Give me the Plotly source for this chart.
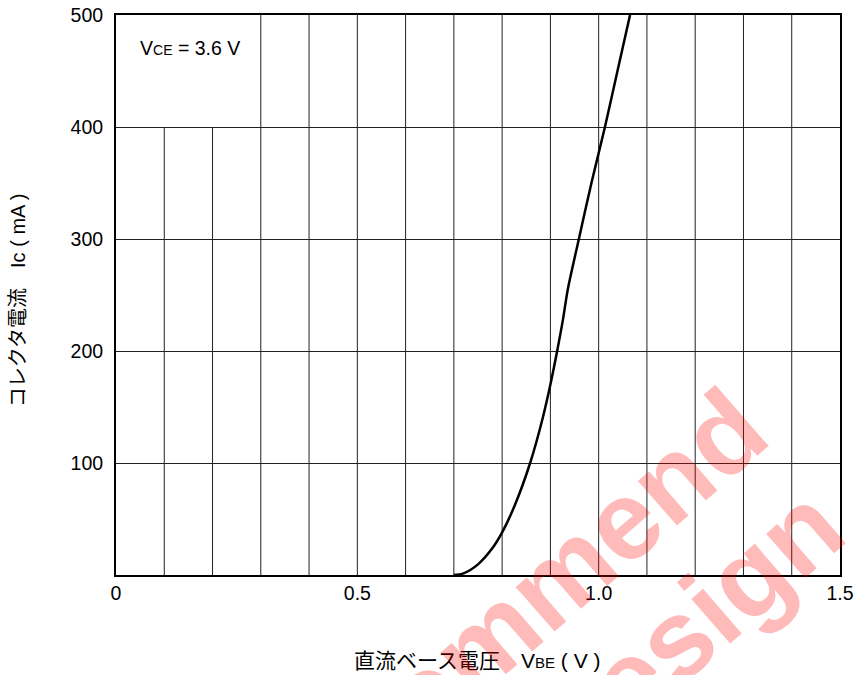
import plotly.graph_objects as go

# Collector current vs. DC base-emitter voltage (VCE = 3.6 V)
vbe = [0.70, 0.72, 0.75, 0.78, 0.80, 0.826, 0.858, 0.884, 0.90, 0.914,
       0.926, 0.936, 0.959, 0.985, 1.013, 1.04, 1.065]
ic_ma = [0, 1.5, 9.5, 24, 38, 62, 100, 140, 170, 200,
         228, 255, 300, 350, 400, 452, 500]

x_ticks = [0, 0.5, 1.0, 1.5]
x_tick_text = ["0", "0.5", "1.0", "1.5"]
y_ticks = [100, 200, 300, 400, 500]
y_tick_text = ["100", "200", "300", "400", "500"]

# vertical grid positions; the first two stop short to leave room for the note
grid_x = [0.1, 0.2, 0.3, 0.4, 0.5, 0.6, 0.7, 0.8, 0.9, 1.0, 1.1, 1.2, 1.3, 1.4]
grid_top = [400, 400] + [500] * 12

LATIN = "Liberation Sans, Arial, Noto Sans CJK JP, sans-serif"
GRID = "#222222"
MARK = "rgba(255,0,0,0.27)"

fig = go.Figure()
fig.add_trace(go.Scatter(x=vbe, y=ic_ma, mode="lines",
                         line=dict(color="black", width=2.5, shape="spline", smoothing=0.8),
                         hoverinfo="skip", showlegend=False))

shapes = []
for gx, gt in zip(grid_x, grid_top):
    shapes.append(dict(type="line", xref="x", yref="y", x0=gx, x1=gx, y0=0, y1=gt,
                       line=dict(color=GRID, width=1), layer="below"))

annotations = [
    dict(text="V<span style='font-size:14px'>CE</span> = 3.6 V", xref="paper", yref="paper",
         x=0.030, y=0.941, xanchor="left", yanchor="middle", showarrow=False,
         font=dict(family=LATIN, size=19.5, color="black")),
    dict(text="直流ベース電圧　V<span style='font-size:15px'>BE</span> ( V )", xref="paper", yref="paper",
         x=0.498, y=-0.152, xanchor="center", yanchor="middle", showarrow=False,
         font=dict(family=LATIN, size=21, color="black")),
    dict(text="コレクタ電流　Ic ( mA )", xref="paper", yref="paper",
         x=-0.136, y=0.49, xanchor="center", yanchor="middle", showarrow=False, textangle=-90,
         font=dict(family=LATIN, size=20, color="black")),
    # red watermark
    dict(text="<b>Recommend</b>", xref="paper", yref="paper", x=0.5235, y=-0.1018,
         xanchor="center", yanchor="middle", showarrow=False, textangle=-41,
         font=dict(family="Liberation Sans, Arial", size=112, color=MARK)),
    dict(text="<b>Design</b>", xref="paper", yref="paper", x=0.7846, y=-0.102,
         xanchor="center", yanchor="middle", showarrow=False, textangle=-41,
         font=dict(family="Liberation Sans, Arial", size=112, color=MARK)),
]

fig.update_layout(
    width=857, height=675,
    margin=dict(l=116, r=17, t=15, b=100),
    paper_bgcolor="white", plot_bgcolor="white",
    shapes=shapes, annotations=annotations,
    xaxis=dict(range=[0, 1.5], tickvals=x_ticks, ticktext=x_tick_text, showgrid=False,
               zeroline=False, showline=True, linecolor="black", linewidth=2, mirror=True,
               ticks="", automargin=False,
               tickfont=dict(family=LATIN, size=19.5, color="black")),
    yaxis=dict(range=[0, 500], tickvals=y_ticks, ticktext=y_tick_text, showgrid=True,
               gridcolor=GRID, gridwidth=1, zeroline=False, showline=True, linecolor="black",
               linewidth=2, mirror=True, ticks="", ticklabelstandoff=7, automargin=False,
               tickfont=dict(family=LATIN, size=19.5, color="black")),
)

fig.write_html("out.html")
